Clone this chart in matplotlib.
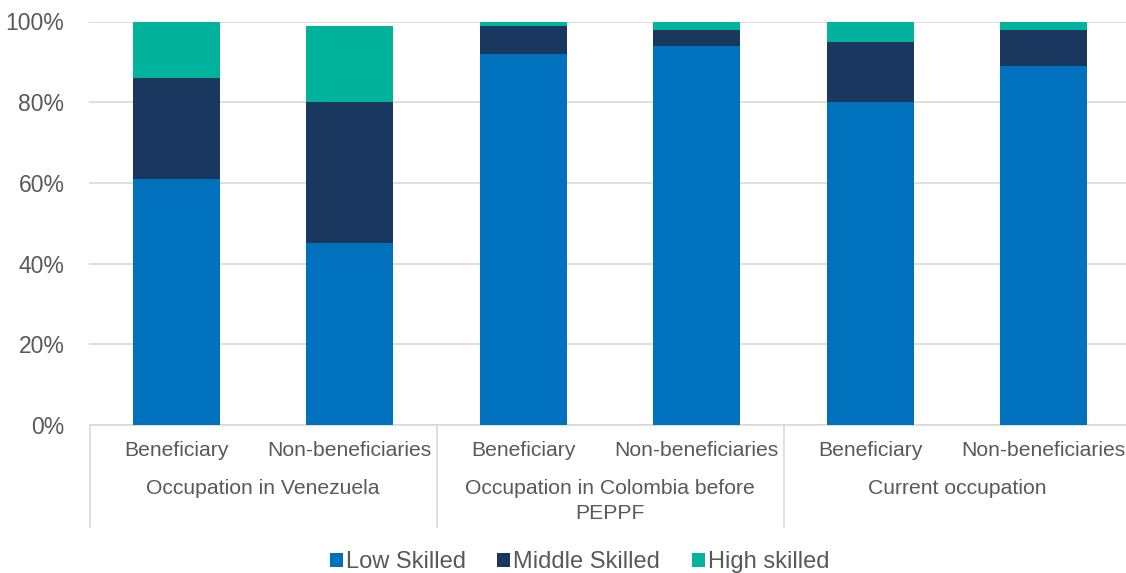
import numpy as np
import matplotlib.pyplot as plt
from matplotlib.lines import Line2D

plt.rcParams['font.family'] = ['Liberation Sans', 'DejaVu Sans']

# Données : part (%) de chaque niveau de qualification
sous_cat = ['Beneficiary', 'Non-beneficiaries'] * 3
groupes = ['Occupation in Venezuela', 'Occupation in Colombia before\nPEPPF', 'Current occupation']
low = [61, 45, 92, 94, 80, 89]
middle = [25, 35, 7, 4, 15, 9]
high = [14, 19, 1, 2, 5, 2]

series = ['Low Skilled', 'Middle Skilled', 'High skilled']
couleurs = ['#0071bc', '#19375f', '#00b39a']
gris = '#595959'

W, H = 1126, 573
fig = plt.figure(figsize=(W / 100, H / 100), dpi=100)
ax = fig.add_axes([89.5 / W, (H - 425) / H, 1041 / W, (425 - 21.5) / H])

x = np.arange(len(low))
bas = np.zeros(len(low))
for vals, nom, c in zip([low, middle, high], series, couleurs):
    ax.bar(x, vals, width=0.5, bottom=bas, color=c, label=nom, zorder=3)
    bas += np.array(vals)

ax.set_xlim(-0.5, 5.5)
ax.set_ylim(0, 100)
ax.set_yticks(np.arange(0, 101, 20))
ax.set_yticklabels([f'{v}%' for v in range(0, 101, 20)], fontsize=16.5, color=gris)
ax.grid(axis='y', color='#d9d9d9', linewidth=1.2, zorder=0)
ax.tick_params(axis='y', length=0, pad=18)
ax.tick_params(axis='x', length=0)
ax.set_xticks([])
for s in ['top', 'right', 'left']:
    ax.spines[s].set_visible(False)
ax.spines['bottom'].set_color('#d9d9d9')
ax.spines['bottom'].set_linewidth(1.2)

# Étiquettes à deux niveaux sous l'axe
trans = ax.get_xaxis_transform()
def yax(py):
    return (425 - py) / (425 - 21.5)

for i, lab in enumerate(sous_cat):
    ax.text(i, yax(450), lab, transform=trans, ha='center', va='center',
            fontsize=15.2, color=gris)
for g, lab in enumerate(groupes):
    for k, ligne in enumerate(lab.split('\n')):
        ax.text(2 * g + 0.5, yax(489 + 24.5 * k), ligne, transform=trans, ha='center', va='center',
                fontsize=15.2, color=gris)

for xs in [-0.5, 1.5, 3.5]:
    ax.add_line(Line2D([xs, xs], [0, yax(527)], transform=trans, color='#d9d9d9',
                       linewidth=1.2, clip_on=False))

fig.legend(loc='center', bbox_to_anchor=(579.5 / W, 1 - 562 / H), ncol=3, frameon=False,
           fontsize=17, labelcolor=gris, handlelength=0.55, handleheight=0.55,
           handletextpad=0.12, columnspacing=1.35, borderaxespad=0, borderpad=0)

fig.savefig('out.png', dpi=100)
